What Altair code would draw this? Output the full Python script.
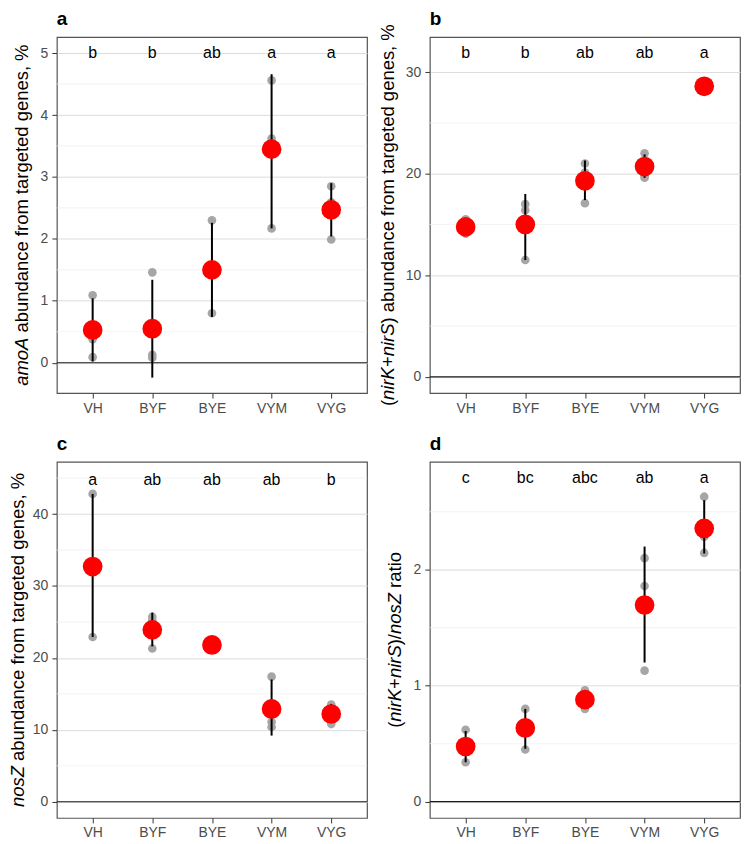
import altair as alt
import pandas as pd

FONT = "Liberation Sans"
categories = ["VH", "BYF", "BYE", "VYM", "VYG"]

# ---- panel a: amoA ----
a_mean = [0.53, 0.55, 1.50, 3.45, 2.47]
a_lo = [0.02, -0.24, 0.74, 2.17, 2.04]
a_hi = [1.04, 1.34, 2.26, 4.66, 2.90]
a_reps = [[1.09, 0.38, 0.09], [1.46, 0.13, 0.08], [2.30, 1.42, 0.80], [4.56, 3.62, 2.17], [2.85, 2.59, 1.99]]
a_letters = ["b", "b", "ab", "a", "a"]
a_letter_y = 5.0
a_domain = [-0.49, 5.26]
a_major = [0, 1, 2, 3, 4, 5]
a_minor = [0.5, 1.5, 2.5, 3.5, 4.5]

# ---- panel b: nirK+nirS ----
b_mean = [14.76, 15.0, 19.3, 20.7, 28.6]
b_lo = [14.2, 11.5, 17.4, 19.6, 28.3]
b_hi = [15.3, 18.0, 21.3, 21.9, 28.9]
b_reps = [[15.5, 14.6, 14.1], [17.0, 16.4, 11.5], [21.0, 20.1, 17.1], [22.0, 19.8, 19.6], [28.8, 28.6, 28.4]]
b_letters = ["b", "b", "ab", "ab", "a"]
b_letter_y = 31.85
b_domain = [-1.6, 33.45]
b_major = [0, 10, 20, 30]
b_minor = [5, 15, 25]

# ---- panel c: nosZ ----
c_mean = [32.7, 23.9, 21.8, 12.9, 12.2]
c_lo = [22.9, 21.6, 21.6, 9.2, 11.1]
c_hi = [42.8, 26.3, 22.0, 17.0, 13.6]
c_reps = [[42.8, 32.6, 22.9], [25.7, 25.2, 21.3], [22.0, 21.8, 21.6], [17.4, 11.1, 10.4], [13.5, 13.0, 10.8]]
c_letters = ["a", "ab", "ab", "ab", "b"]
c_letter_y = 44.8
c_domain = [-2.25, 47.25]
c_major = [0, 10, 20, 30, 40]
c_minor = [5, 15, 25, 35, 45]

# ---- panel d: ratio ----
d_mean = [0.476, 0.636, 0.88, 1.696, 2.356]
d_lo = [0.34, 0.456, 0.81, 1.20, 2.14]
d_hi = [0.61, 0.80, 0.963, 2.20, 2.60]
d_reps = [[0.62, 0.45, 0.34], [0.80, 0.65, 0.45], [0.96, 0.88, 0.80], [2.10, 1.86, 1.13], [2.63, 2.285, 2.145]]
d_letters = ["c", "bc", "abc", "ab", "a"]
d_letter_y = 2.79
d_domain = [-0.14, 2.93]
d_major = [0, 1, 2]
d_minor = [0.5, 1.5, 2.5]

zero_line = [0]

# y-axis titles (italic gene names)
a_title = [("amoA", True), (" abundance from targeted genes, %", False)]
b_title = [("(", False), ("nirK", True), ("+", False), ("nirS", True), (") abundance from targeted genes, %", False)]
c_title = [("nosZ", True), (" abundance from targeted genes, %", False)]
d_title = [("(", False), ("nirK", True), ("+", False), ("nirS", True), (")/", False), ("nosZ", True), (" ratio", False)]

# Arial / Liberation Sans advance widths (per 1000 em)
CW = {' ': 278, '%': 889, '(': 333, ')': 333, '+': 584, ',': 278, '/': 278,
      'A': 667, 'K': 667, 'S': 667, 'Z': 611, 'a': 556, 'b': 556, 'c': 500, 'd': 556,
      'e': 556, 'f': 278, 'g': 556, 'i': 222, 'm': 833, 'n': 556, 'o': 556, 'r': 333,
      's': 500, 't': 278, 'u': 556}
TFS = 18.5
LFS = 14
GREY_TXT = "#4D4D4D"
W = 311
H = 357


def text_w(s, fs):
    return sum(CW.get(ch, 556) for ch in s) * fs / 1000.0


def one_text(text, x, y, **kw):
    return (alt.Chart(alt.Data(values=[{"k": 1}]))
            .mark_text(font=FONT, color="black", **kw)
            .encode(x=alt.value(x), y=alt.value(y), text=alt.value(text)))


def title_layers(segments, xoff):
    total = sum(text_w(s, TFS) for s, _ in segments)
    start = H / 2 + total / 2
    cum = 0.0
    layers = []
    for s, ital in segments:
        stripped = s.lstrip(" ")
        cum += text_w(s[: len(s) - len(stripped)], TFS)
        layers.append(one_text(stripped, -xoff, start - cum, angle=270, align="left",
                               baseline="alphabetic", fontSize=TFS,
                               fontStyle="italic" if ital else "normal"))
        cum += text_w(stripped, TFS)
    return layers


def panel(label, mean, lo, hi, reps, letters, letter_y, domain, major, minor, title_segs, xoff):
    summ = pd.DataFrame({"cat": categories, "mean": mean, "lo": lo, "hi": hi,
                         "letter": letters, "ly": [letter_y] * 5})
    rep_rows = [{"cat": c, "val": v} for c, vals in zip(categories, reps) for v in vals]
    reps_df = pd.DataFrame(rep_rows)
    minor_df = pd.DataFrame({"v": minor})
    zero_df = pd.DataFrame({"v": zero_line})

    yscale = alt.Scale(domain=domain, nice=False, zero=False)
    yaxis = alt.Axis(title=None, values=major, grid=True, gridColor="#DCDCDC", gridWidth=1,
                     domain=False, ticks=True, tickColor="#333333", tickSize=5, tickWidth=1,
                     labelColor=GREY_TXT, labelFontSize=LFS, labelFont=FONT, labelPadding=4)
    xscale = alt.Scale(type="point", padding=0.6)
    xaxis = alt.Axis(title=None, labelAngle=0, domain=False, grid=False, ticks=True,
                     tickColor="#333333", tickSize=5, tickWidth=1, labelColor=GREY_TXT,
                     labelFontSize=LFS, labelFont=FONT, labelPadding=3)
    X = alt.X("cat:N", sort=categories, scale=xscale, axis=xaxis)

    minor_l = alt.Chart(minor_df).mark_rule(color="#F0F0F0", strokeWidth=0.8).encode(
        y=alt.Y("v:Q", scale=yscale, axis=yaxis))
    zero_l = alt.Chart(zero_df).mark_rule(color="#1A1A1A", strokeWidth=1.2).encode(
        y=alt.Y("v:Q", scale=yscale, axis=yaxis))
    pts = alt.Chart(reps_df).mark_circle(size=75, color="#A6A6A6", opacity=1).encode(
        x=X, y=alt.Y("val:Q", scale=yscale, axis=yaxis))
    err = alt.Chart(summ).mark_rule(color="black", strokeWidth=2).encode(
        x=X, y=alt.Y("lo:Q", scale=yscale, axis=yaxis), y2="hi:Q")
    mn = alt.Chart(summ).mark_circle(size=390, color="#FF0000", opacity=1).encode(
        x=X, y=alt.Y("mean:Q", scale=yscale, axis=yaxis))
    let = alt.Chart(summ).mark_text(fontSize=16, font=FONT, color="black", baseline="middle").encode(
        x=X, y=alt.Y("ly:Q", scale=yscale, axis=yaxis), text="letter:N")
    tag = one_text(label, 0, -12, align="left", baseline="alphabetic", fontSize=19,
                   fontWeight="bold")

    layers = [minor_l, zero_l, pts, err, mn, let, tag] + title_layers(title_segs, xoff)
    return alt.layer(*layers).properties(width=W, height=H)


pa = panel("a", a_mean, a_lo, a_hi, a_reps, a_letters, a_letter_y, a_domain, a_major, a_minor, a_title, 29)
pb = panel("b", b_mean, b_lo, b_hi, b_reps, b_letters, b_letter_y, b_domain, b_major, b_minor, b_title, 36)
pc = panel("c", c_mean, c_lo, c_hi, c_reps, c_letters, c_letter_y, c_domain, c_major, c_minor, c_title, 33)
pd_ = panel("d", d_mean, d_lo, d_hi, d_reps, d_letters, d_letter_y, d_domain, d_major, d_minor, d_title, 29)

chart = alt.concat(
    pa, pb, pc, pd_, columns=2, bounds="flush", spacing={"row": 69, "column": 63}
).properties(padding=0, background="white").configure_view(
    stroke="#555555", strokeWidth=1.2
)

chart.save("out.html", embed_options={"renderer": "svg", "actions": False})
